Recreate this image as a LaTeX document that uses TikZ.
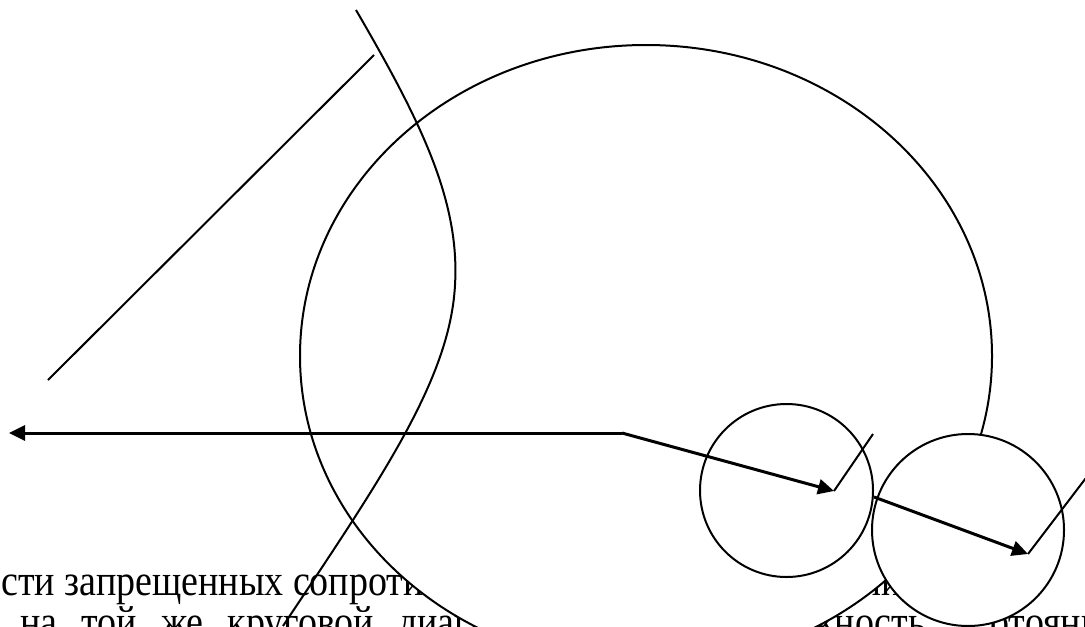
\documentclass[tikz,border=0pt]{standalone}
\usepackage{fontspec}
\setmainfont{Liberation Serif}
\usetikzlibrary{arrows.meta}
\newcommand{\alto}[1]{\scalebox{1}[1.15]{#1}}
\tikzset{
  trazo/.style={line width=1pt, draw=black},
  flecha/.style={line width=1.5pt, -{Triangle[length=8pt,width=7.5pt]}},
  circulo/.style={trazo, fill=white},
  texto/.style={inner sep=0pt, anchor=base west, font=\fontsize{19}{22}\selectfont}
}

\begin{document}
\begin{tikzpicture}[x=0.5pt, y=-0.5pt]
  \useasboundingbox (0,0) rectangle (1085,626);
  % texto de fondo, tapado en parte por las figuras
  \node (lin1) [texto] at (1,595) {\alto{сти запрещенных сопротив}};
  \node (lin1b) [texto] at (862,595) {\alto{ли}};
  \node (lin2) [texto] at (20,636) {\alto{\spaceskip=12pt\relax на той же круговой диагр}};
  \node (lin2b) [texto] at (808,636) {\alto{жность,}};
  \node (lin2c) [texto] at (990,636) {\alto{отояни}};
  % figuras
  \coordinate (elip) at (646,356);
  \coordinate (c1) at (786.5,490.5);
  \coordinate (c2) at (968,530);
  \draw [circulo] (elip) ellipse [x radius=346, y radius=311];
  \draw [circulo] (c1) circle [radius=86.5];
  \draw [circulo] (c2) circle [radius=96];
  \coordinate (arcoa) at (356,10);
  \coordinate (arcob) at (455,285);
  \coordinate (arcoc) at (283,626);
  \draw [trazo] (arcoa) .. controls (420,120) and (460,200) .. (arcob)
                        .. controls (450,380) and (380,480) .. (arcoc);
  \coordinate (diaga) at (48,380);
  \coordinate (diagb) at (374,55);
  \draw [trazo] (diaga) -- (diagb);
  % flechas
  \coordinate (izq) at (9,433);
  \coordinate (quiebre) at (622,433);
  \coordinate (p1) at (834,491);
  \coordinate (q1) at (873,434);
  \coordinate (s2) at (874,497);
  \coordinate (p2) at (1028,554);
  \coordinate (q2) at (1092,470);
  \draw [flecha] (quiebre) -- (izq);
  \draw [flecha] (quiebre) -- (p1);
  \draw [trazo] (p1) -- (q1);
  \draw [flecha] (s2) -- (p2);
  \draw [trazo] (p2) -- (q2);
\end{tikzpicture}
\end{document}
